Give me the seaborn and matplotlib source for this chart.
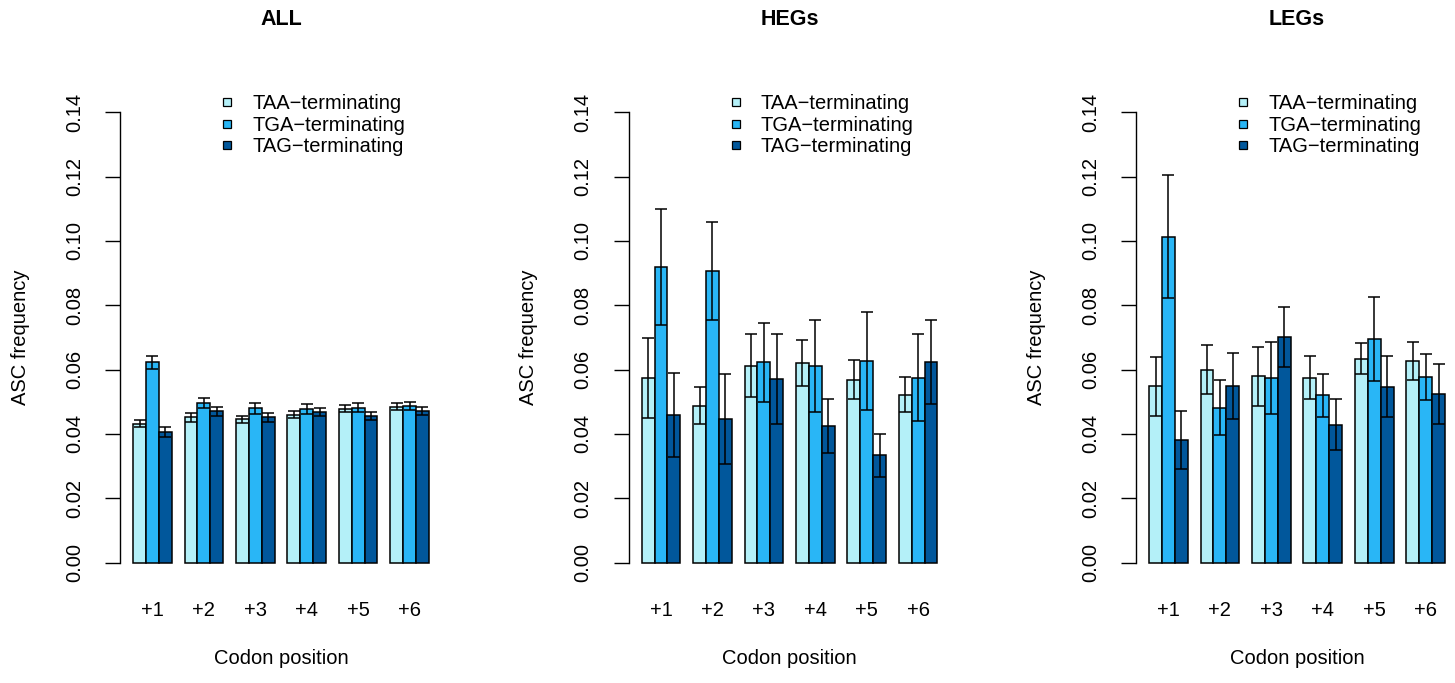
import pandas as pd
import matplotlib
matplotlib.use('Agg')
import matplotlib.pyplot as plt
from matplotlib.lines import Line2D
import seaborn as sns

# valores (frequência média e meia-largura da barra de erro)
positions = ['+1', '+2', '+3', '+4', '+5', '+6']
stops = ['TAA\u2212terminating', 'TGA\u2212terminating', 'TAG\u2212terminating']
colors = ['#b4f0f8', '#29b6f6', '#01579b']

all_taa = [0.0432, 0.0451, 0.0445, 0.0460, 0.0478, 0.0485]
all_tga = [0.0623, 0.0497, 0.0479, 0.0478, 0.0481, 0.0487]
all_tag = [0.0405, 0.0471, 0.0451, 0.0468, 0.0456, 0.0471]
all_taa_err = [0.0012, 0.0013, 0.0012, 0.0012, 0.0011, 0.0011]
all_tga_err = [0.0020, 0.0015, 0.0016, 0.0015, 0.0014, 0.0013]
all_tag_err = [0.0015, 0.0014, 0.0013, 0.0013, 0.0013, 0.0013]

heg_taa = [0.0574, 0.0488, 0.0612, 0.0620, 0.0569, 0.0522]
heg_tga = [0.0919, 0.0906, 0.0622, 0.0611, 0.0626, 0.0575]
heg_tag = [0.0459, 0.0445, 0.0571, 0.0425, 0.0333, 0.0623]
heg_taa_err = [0.0125, 0.0058, 0.0098, 0.0071, 0.0062, 0.0054]
heg_tga_err = [0.0181, 0.0153, 0.0124, 0.0142, 0.0152, 0.0136]
heg_tag_err = [0.0130, 0.0140, 0.0139, 0.0084, 0.0067, 0.0130]

leg_taa = [0.0548, 0.0600, 0.0579, 0.0575, 0.0634, 0.0626]
leg_tga = [0.1013, 0.0481, 0.0573, 0.0520, 0.0695, 0.0577]
leg_tag = [0.0381, 0.0549, 0.0701, 0.0428, 0.0546, 0.0524]
leg_taa_err = [0.0092, 0.0076, 0.0091, 0.0066, 0.0049, 0.0060]
leg_tga_err = [0.0191, 0.0085, 0.0112, 0.0067, 0.0130, 0.0072]
leg_tag_err = [0.0090, 0.0103, 0.0093, 0.0079, 0.0095, 0.0094]

panels = [
    ('ALL', [all_taa, all_tga, all_tag], [all_taa_err, all_tga_err, all_tag_err]),
    ('HEGs', [heg_taa, heg_tga, heg_tag], [heg_taa_err, heg_tga_err, heg_tag_err]),
    ('LEGs', [leg_taa, leg_tga, leg_tag], [leg_taa_err, leg_tga_err, leg_tag_err]),
]

sns.set_style('ticks')
plt.rcParams['font.family'] = ['Liberation Sans', 'DejaVu Sans']
plt.rcParams['axes.linewidth'] = 1.0
for k in ['text.color', 'axes.labelcolor', 'xtick.color', 'ytick.color', 'axes.edgecolor']:
    plt.rcParams[k] = 'black'

fig = plt.figure(figsize=(14.55, 6.83), dpi=100)
lefts = [0.0825, 0.4320, 0.7808]

for left, (title, means, errs) in zip(lefts, panels):
    ax = fig.add_axes([left, 0.150, 0.2213, 0.712])

    rows = []
    for s, vals, ers in zip(stops, means, errs):
        for p, v, e in zip(positions, vals, ers):
            rows.append({'pos': p, 'stop': s, 'freq': v, 'err': e})
    df = pd.DataFrame(rows)

    sns.barplot(data=df, x='pos', y='freq', hue='stop', order=positions, hue_order=stops,
                palette=colors, saturation=1, width=0.75, gap=0, edgecolor='black',
                linewidth=1.1, errorbar=None, legend=False, ax=ax)

    # barras de erro no centro de cada barra
    for cont, s in zip(ax.containers, stops):
        sub = df[df['stop'] == s].set_index('pos').loc[positions]
        xs = [b.get_x() + b.get_width() / 2 for b in cont]
        ax.errorbar(xs, sub['freq'], yerr=sub['err'], fmt='none', ecolor='black',
                    elinewidth=1.1, capsize=4.5, capthick=1.1, zorder=5)

    ax.set_xlim(-0.63, 5.63)
    ax.set_ylim(-0.0056, 0.1456)
    ax.set_yticks([0.00, 0.02, 0.04, 0.06, 0.08, 0.10, 0.12, 0.14])
    ax.set_yticklabels(['0.00', '0.02', '0.04', '0.06', '0.08', '0.10', '0.12', '0.14'],
                       rotation=90, va='center')
    ax.tick_params(axis='y', length=10.8, width=1.0, pad=15, labelsize=14.5)
    ax.tick_params(axis='x', length=0, pad=15, labelsize=14.5)
    sns.despine(ax=ax, top=True, right=True, bottom=True)
    ax.spines['left'].set_bounds(0, 0.14)

    ax.set_xlabel('Codon position', fontsize=14.5, va='center')
    ax.xaxis.set_label_coords(0.5, -0.161)
    ax.set_ylabel('ASC frequency', fontsize=14.5, va='center')
    ax.yaxis.set_label_coords(-0.31, 0.5)
    ax.set_title(title, fontsize=15.5, fontweight='bold', y=1.153, va='center', pad=0)

    handles = [Line2D([], [], marker='s', ls='none', markersize=5.8, markerfacecolor=c,
                      markeredgecolor='black', markeredgewidth=0.9) for c in colors]
    ax.legend(handles, stops, loc='upper left', bbox_to_anchor=(0.301, 1.0),
              frameon=False, fontsize=14.5, borderpad=0, borderaxespad=0,
              handlelength=1.0, handletextpad=0.76, labelspacing=0.12)

plt.savefig('out.png', dpi=100)
